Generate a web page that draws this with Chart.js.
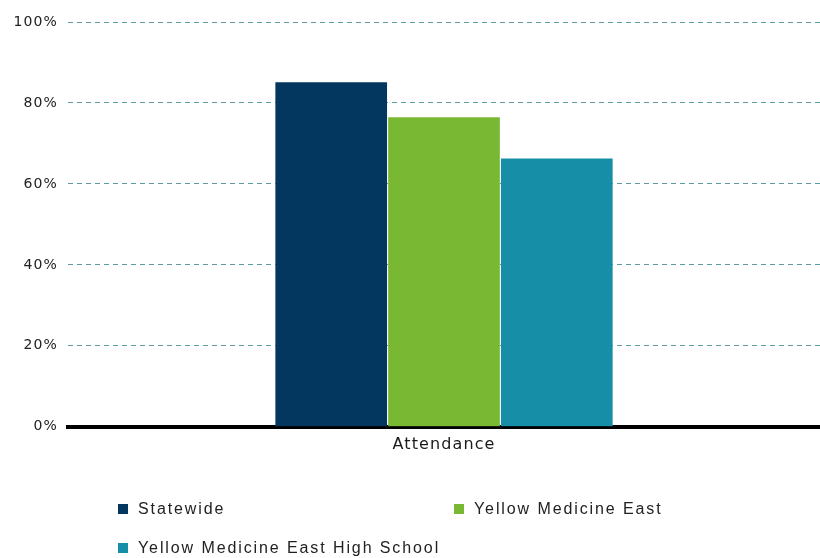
<!DOCTYPE html>
<html>
<head>
<meta charset="utf-8">
<script src="https://cdn.jsdelivr.net/npm/chart.js@4.4.1/dist/chart.umd.min.js"></script>
<style>
  html, body { margin: 0; padding: 0; background: #fff; }
  #wrap { position: relative; width: 820px; height: 558px; }
  #c { position: absolute; left: 0; top: 0; }
  .leg { position: absolute; font-family: "Liberation Sans", Arial, sans-serif; font-size: 16px; color: #222; letter-spacing: 1.9px; white-space: nowrap; line-height: 18px; }
  .leg span.box { display: inline-block; width: 10px; height: 10px; margin-right: 10px; vertical-align: 0px; }
</style>
</head>
<body>
<div id="wrap">
  <canvas id="c" width="820" height="558"></canvas>
  <div id="legend"></div>
</div>
<script>
const categories = ["Attendance"];
const seriesNames = ["Statewide", "Yellow Medicine East", "Yellow Medicine East High School"];
const statewide = [85.1];
const yellowMedicineEast = [76.5];
const yellowMedicineEastHS = [66.3];
const seriesColors = ["#04375f", "#78b833", "#178ea8"];
const yTicks = [0, 20, 40, 60, 80, 100];

const seriesValues = [statewide, yellowMedicineEast, yellowMedicineEastHS];

const spacingPlugin = {
  id: 'spacing',
  beforeDraw(chart) { chart.ctx.letterSpacing = '1.1px'; }
};

const ctx = document.getElementById('c').getContext('2d');
new Chart(ctx, {
  type: 'bar',
  data: {
    labels: categories,
    datasets: seriesNames.map((n, i) => ({
      label: n,
      data: seriesValues[i],
      backgroundColor: seriesColors[i],
      borderWidth: 0,
      categoryPercentage: 0.45,
      barPercentage: 0.99
    }))
  },
  plugins: [spacingPlugin],
  options: {
    responsive: false,
    animation: false,
    layout: { padding: { top: 22, right: 0, left: 2, bottom: 96 } },
    plugins: { legend: { display: false }, tooltip: { enabled: false } },
    scales: {
      x: {
        grid: { display: false, drawTicks: false },
        border: { display: true, color: '#000', width: 4 },
        ticks: { color: '#1a1a1a', padding: 8, font: { family: 'DejaVu Sans', size: 16 } }
      },
      y: {
        min: 0, max: 100,
        afterFit: (s) => { s.width = 66; },
        afterBuildTicks: (s) => { s.ticks = yTicks.map(v => ({ value: v })); },
        grid: { color: '#5e9ba3', lineWidth: 1, drawTicks: false },
        border: { display: false, dash: [5, 4] },
        ticks: {
          color: '#222', padding: 10,
          font: { family: 'DejaVu Sans', size: 14 },
          callback: (v) => v + '%'
        }
      }
    }
  }
});

// legend
const pos = [[118, 500], [454, 500], [118, 539]];
const legEl = document.getElementById('legend');
seriesNames.forEach((n, i) => {
  const d = document.createElement('div');
  d.className = 'leg';
  d.style.left = pos[i][0] + 'px';
  d.style.top = pos[i][1] + 'px';
  d.innerHTML = '<span class="box" style="background:' + seriesColors[i] + '"></span>' + n;
  legEl.appendChild(d);
});
</script>
</body>
</html>
